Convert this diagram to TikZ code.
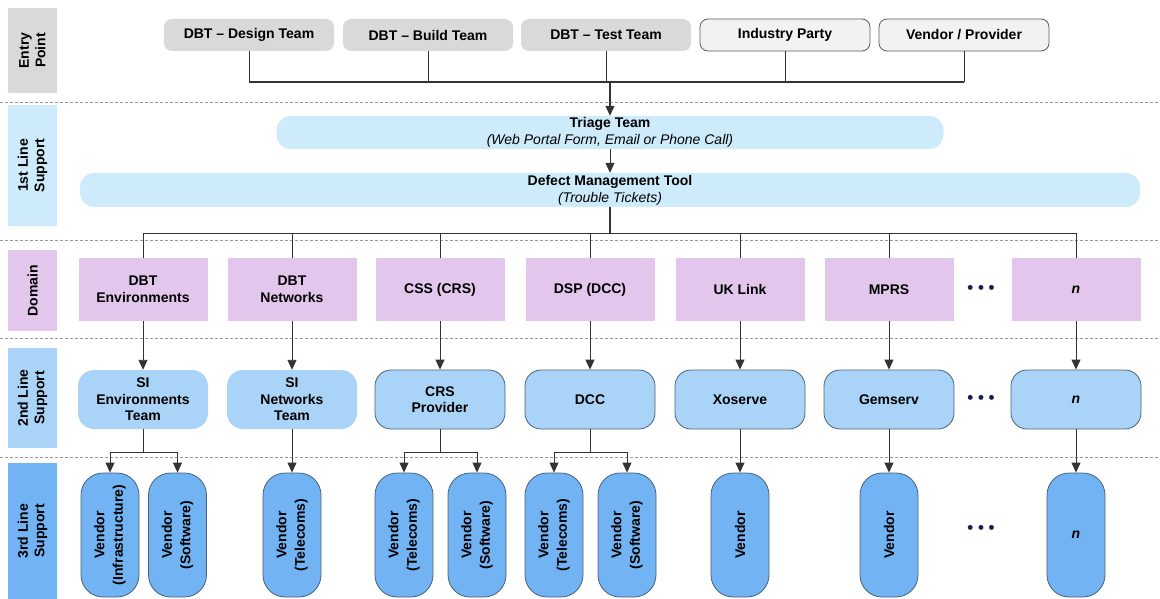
\documentclass[tikz,border=0pt]{standalone}
\usepackage{fontspec}
\setmainfont{Liberation Sans}
\usetikzlibrary{positioning,arrows.meta,calc}

\definecolor{entrygrey}{HTML}{D9D9D9}
\definecolor{partygrey}{HTML}{F2F2F2}
\definecolor{firstblue}{HTML}{CDEBFA}
\definecolor{domainlilac}{HTML}{E2C6EC}
\definecolor{secondblue}{HTML}{AAD4F7}
\definecolor{thirdblue}{HTML}{72B3F3}
\definecolor{edgeslate}{HTML}{4A6278}
\definecolor{linegrey}{HTML}{333333}
\definecolor{sepgrey}{HTML}{9A9A9A}
\definecolor{dotnavy}{HTML}{1C1C4C}

\begin{document}
\begin{tikzpicture}[x=1pt,y=-1pt,>={Triangle[length=10pt,width=9pt]},
  txt/.style={font=\bfseries\fontsize{14}{16.5}\selectfont},
  link/.style={draw=linegrey,line width=0.9pt},
  arr/.style={link,->},
  sep/.style={draw=sepgrey,line width=0.8pt,dash pattern=on 3pt off 2pt},
  lane/.style={txt,rotate=90,inner sep=0pt,minimum height=49pt,align=center},
  entrybox/.style={txt,fill=entrygrey,rounded corners=8pt,minimum width=170pt,minimum height=32pt},
  partybox/.style={entrybox,fill=partygrey,draw=linegrey!80,line width=0.8pt},
  firstbox/.style={fill=firstblue,rounded corners=14pt,align=center,inner sep=0pt,font=\fontsize{14}{17}\selectfont},
  domainbox/.style={txt,fill=domainlilac,minimum width=129pt,minimum height=63pt,align=center},
  secondbox/.style={txt,fill=secondblue,rounded corners=16pt,minimum width=130pt,minimum height=59pt,align=center},
  providerbox/.style={secondbox,draw=edgeslate,line width=0.8pt},
  vendorbox/.style={txt,font=\bfseries\fontsize{14}{18.5}\selectfont,rotate=90,fill=thirdblue,draw=edgeslate,
    line width=0.8pt,rounded corners=22pt,minimum width=124pt,minimum height=58pt,align=center,inner sep=0pt},
  more/.style={text=dotnavy,font=\bfseries\fontsize{17}{17}\selectfont}]
\useasboundingbox (0,0) rectangle (1160,599);

% swim lanes
\node[lane,fill=entrygrey,minimum width=85pt] (lentry) at (32.5,50.5) {Entry\\Point};
\node[lane,fill=firstblue,minimum width=121pt] (lfirst) at (32.5,165.5) {1st Line\\Support};
\node[lane,fill=domainlilac,minimum width=81pt] (ldomain) at (32.5,290.5) {Domain};
\node[lane,fill=secondblue,minimum width=100pt] (lsecond) at (32.5,398) {2nd Line\\Support};
\node[lane,fill=thirdblue,minimum width=136pt] (lthird) at (32.5,531) {3rd Line\\Support};
\foreach \y in {102,240,338,457} {\draw[sep] (0,\y) -- (1160,\y);}

% entry points
\node[entrybox] (e1) at (249,35) {DBT -- Design Team};
\node[entrybox] (e2) at (428,35) {DBT -- Build Team};
\node[entrybox] (e3) at (606,35) {DBT -- Test Team};
\node[partybox] (e4) at (785,35) {Industry Party};
\node[partybox] (e5) at (964,35) {Vendor / Provider};
\coordinate (ebus) at (610,82);
\foreach \e in {e1,e2,e3,e4,e5} {\draw[link] (\e) -- (\e |- ebus);}
\draw[link,line width=1.2pt] (e1 |- ebus) -- (e5 |- ebus);

% 1st line
\node[firstbox,minimum width=667pt,minimum height=33pt] (triage) at (610,132.5)
  {\bfseries Triage Team\\\itshape(Web Portal Form, Email or Phone Call)};
\node[firstbox,minimum width=1060pt,minimum height=34pt] (dmt) at (610,190)
  {\bfseries Defect Management Tool\\\itshape(Trouble Tickets)};
\draw[arr,line width=1.2pt] (ebus) -- (triage);
\draw[arr] (triage) -- (dmt);

% domains
\node[domainbox] (d1) at (143,289.5) {DBT\\Environments};
\node[domainbox] (d2) at (292,289.5) {DBT\\Networks};
\node[domainbox] (d3) at (440,289.5) {CSS (CRS)};
\node[domainbox] (d4) at (590,289.5) {DSP (DCC)};
\node[domainbox] (d5) at (740,289.5) {UK Link};
\node[domainbox] (d6) at (889,289.5) {MPRS};
\node[domainbox] (d7) at (1076,289.5) {\itshape n};
\node[more] (dmore) at (981,289.5) {• • •};
\coordinate (dbus) at (610,233);
\draw[link,line width=1.2pt] (dmt) -- (dbus);
\draw[link] (d1 |- dbus) -- (d7 |- dbus);
\foreach \i in {1,...,7} {\draw[link] (d\i |- dbus) -- (d\i);}

% 2nd line
\node[secondbox] (s1) at (143,399.5) {SI\\Environments\\Team};
\node[secondbox] (s2) at (292,399.5) {SI\\Networks\\Team};
\node[providerbox] (s3) at (440,399.5) {CRS\\Provider};
\node[providerbox] (s4) at (590,399.5) {DCC};
\node[providerbox] (s5) at (740,399.5) {Xoserve};
\node[providerbox] (s6) at (889,399.5) {Gemserv};
\node[providerbox] (s7) at (1076,399.5) {\itshape n};
\node[more] (smore) at (981,399.5) {• • •};
\foreach \i in {1,...,7} {\draw[arr] (d\i) -- (s\i);}

% 3rd line
\node[vendorbox] (v11) at (110,535) {Vendor\\(Infrastructure)};
\node[vendorbox] (v12) at (177.5,535) {Vendor\\(Software)};
\node[vendorbox] (v2) at (292,535) {Vendor\\(Telecoms)};
\node[vendorbox] (v31) at (404,535) {Vendor\\(Telecoms)};
\node[vendorbox] (v32) at (477,535) {Vendor\\(Software)};
\node[vendorbox] (v41) at (554,535) {Vendor\\(Telecoms)};
\node[vendorbox] (v42) at (627,535) {Vendor\\(Software)};
\node[vendorbox] (v5) at (740,535) {Vendor};
\node[vendorbox] (v6) at (889,535) {Vendor};
\node[vendorbox] (v7) at (1076,535) {\rotatebox{-90}{\itshape n}};
\node[more] (vmore) at (981,529) {• • •};
\foreach \s/\a/\b in {s1/v11/v12,s3/v31/v32,s4/v41/v42} {
  \coordinate (fork) at ($(\s.south)+(0,23)$);
  \draw[link] (\s) -- (fork);
  \draw[arr] (fork) -| (\a);
  \draw[arr] (fork) -| (\b);
}
\foreach \s/\v in {s2/v2,s5/v5,s6/v6,s7/v7} {\draw[arr] (\s) -- (\v);}
\end{tikzpicture}
\end{document}
